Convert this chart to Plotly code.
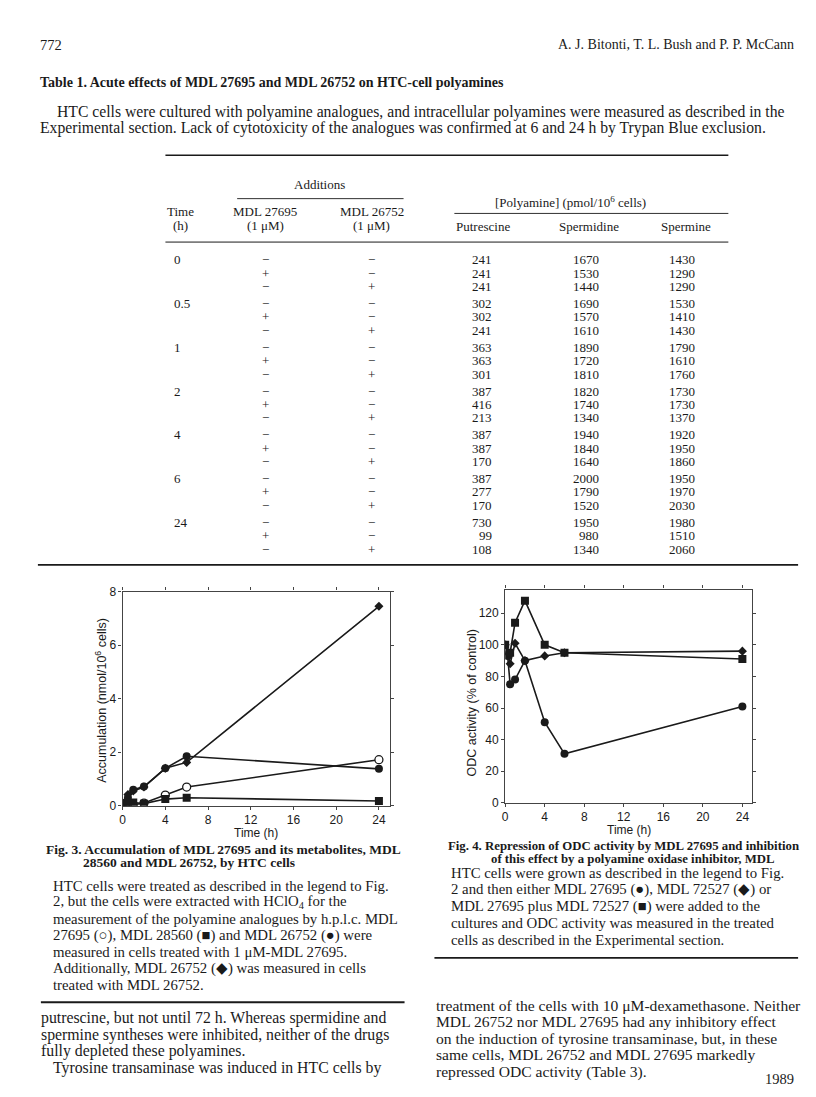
import plotly.graph_objects as go

W, H = 816, 1097

# ---- Table 1 data ----
times = ["0", "0.5", "1", "2", "4", "6", "24"]
add_27695 = ["−", "+", "−"]
add_26752 = ["−", "−", "+"]
putrescine = [241, 241, 241, 302, 302, 241, 363, 363, 301, 387, 416, 213,
              387, 387, 170, 387, 277, 170, 730, 99, 108]
spermidine = [1670, 1530, 1440, 1690, 1570, 1610, 1890, 1720, 1810, 1820, 1740, 1340,
              1940, 1840, 1640, 2000, 1790, 1520, 1950, 980, 1340]
spermine = [1430, 1290, 1290, 1530, 1410, 1430, 1790, 1610, 1760, 1730, 1730, 1370,
            1920, 1950, 1860, 1950, 1970, 2030, 1980, 1510, 2060]

# ---- Fig. 3 data ----
t3 = [0, 0.25, 0.5, 1, 2, 4, 6, 24]
mdl27695_open = [0.05, 0.05, 0.05, 0.03, 0.1, 0.4, 0.7, 1.72]
mdl28560_sq = [0.05, 0.05, 0.1, 0.12, 0.08, 0.25, 0.3, 0.18]
mdl26752_circ = [0.05, 0.1, 0.3, 0.6, 0.72, 1.4, 1.85, 1.38]
mdl26752_dia = [0.05, 0.15, 0.42, 0.55, 0.7, 1.4, 1.62, 7.45]

# ---- Fig. 4 data ----
t4 = [0, 0.25, 0.5, 1, 2, 4, 6, 24]
odc_27695 = [100, 93, 75, 78, 90, 51, 31, 61]
odc_72527 = [100, 95, 88, 101, 90, 93, 95, 96]
t4_sq = [0, 0.5, 1, 2, 4, 6, 24]
odc_both = [100, 95, 114, 128, 100, 95, 91]


def X(px):
    return px / W


def Y(py):
    return 1 - py / H


SERIF = "Liberation Serif"
SANS = "Liberation Sans"
INK = "#1a1a1a"

fig = go.Figure()
annotations = []
shapes = []


def txt(x, y, s, size=13, anchor="left", bold=False, family=SERIF, angle=0):
    if bold:
        s = "<b>" + s + "</b>"
    annotations.append(dict(
        x=X(x), y=Y(y), xref="paper", yref="paper", text=s, showarrow=False,
        xanchor=anchor, yanchor="middle", textangle=angle,
        font=dict(family=family, size=size, color=INK)))


def rule(x0, x1, y, width=1.4):
    shapes.append(dict(type="line", xref="paper", yref="paper",
                       x0=X(x0), x1=X(x1), y0=Y(y), y1=Y(y),
                       line=dict(color=INK, width=width)))


# page header
txt(27, 30, "772", 14.5)
txt(788, 30, "A. J. Bitonti, T. L. Bush and P. P. McCann", 14, anchor="right")
txt(27, 68, "Table 1. Acute effects of MDL 27695 and MDL 26752 on HTC-cell polyamines", 14, bold=True)
txt(44, 98, "HTC cells were cultured with polyamine analogues, and intracellular polyamines were measured as described in the", 15.7)
txt(27, 114, "Experimental section. Lack of cytotoxicity of the analogues was confirmed at 6 and 24 h by Trypan Blue exclusion.", 15.7)

# table
rule(155, 720, 142)
txt(310, 172, "Additions", 13, anchor="center")
rule(227, 394, 186, 0.9)
txt(562, 189, "[Polyamine] (pmol/10<sup>6</sup> cells)", 13, anchor="center")
rule(445, 720, 201, 0.9)
txt(170, 199, "Time", 13, anchor="center")
txt(170, 213, "(h)", 13, anchor="center")
txt(255, 199, "MDL 27695", 13, anchor="center")
txt(255, 213, "(1 μM)", 13, anchor="center")
txt(362, 199, "MDL 26752", 13, anchor="center")
txt(362, 213, "(1 μM)", 13, anchor="center")
txt(474, 214, "Putrescine", 13, anchor="center")
txt(580, 214, "Spermidine", 13, anchor="center")
txt(677, 214, "Spermine", 13, anchor="center")
rule(155, 720, 230, 1.0)

for g, tm in enumerate(times):
    y0 = 248 + g * 44.33
    txt(162, y0, tm, 13)
    for r in range(3):
        yy = y0 + r * 13.5
        i = g * 3 + r
        txt(255, yy, add_27695[r], 13, anchor="center")
        txt(362, yy, add_26752[r], 13, anchor="center")
        txt(485, yy, str(putrescine[i]), 13, anchor="right")
        txt(592, yy, str(spermidine[i]), 13, anchor="right")
        txt(689, yy, str(spermine[i]), 13, anchor="right")
rule(27, 790, 557, 1.6)

# ---- Fig. 3 traces ----
line = dict(color=INK, width=1.6)
fig.add_trace(go.Scatter(x=t3, y=mdl26752_dia, mode="lines+markers", line=line,
                         marker=dict(symbol="diamond", size=7, color=INK), xaxis="x", yaxis="y"))
fig.add_trace(go.Scatter(x=t3, y=mdl26752_circ, mode="lines+markers", line=line,
                         marker=dict(symbol="circle", size=8, color=INK), xaxis="x", yaxis="y"))
fig.add_trace(go.Scatter(x=t3, y=mdl27695_open, mode="lines+markers", line=line,
                         marker=dict(symbol="circle", size=8, color="white", line=dict(color=INK, width=1.3)),
                         xaxis="x", yaxis="y"))
fig.add_trace(go.Scatter(x=t3, y=mdl28560_sq, mode="lines+markers", line=line,
                         marker=dict(symbol="square", size=8, color=INK), xaxis="x", yaxis="y"))

# ---- Fig. 4 traces ----
fig.add_trace(go.Scatter(x=t4, y=odc_27695, mode="lines+markers", line=line,
                         marker=dict(symbol="circle", size=8, color=INK), xaxis="x2", yaxis="y2"))
fig.add_trace(go.Scatter(x=t4, y=odc_72527, mode="lines+markers", line=line,
                         marker=dict(symbol="diamond", size=7, color=INK), xaxis="x2", yaxis="y2"))
fig.add_trace(go.Scatter(x=t4_sq, y=odc_both, mode="lines+markers", line=line,
                         marker=dict(symbol="square", size=8, color=INK), xaxis="x2", yaxis="y2"))

axis_common = dict(showline=True, linecolor="#444", linewidth=1.2, mirror="ticks",
                   ticks="outside", ticklen=3, tickcolor="#444", showgrid=False, zeroline=False,
                   tickfont=dict(family=SANS, size=12, color=INK))

# axis titles
txt(246, 829, "Time (h)", 12, anchor="center", family=SANS)
txt(90, 694, "Accumulation (nmol/10<sup>6</sup> cells)", 12.5, anchor="center", family=SANS, angle=-90)
txt(620, 826, "Time (h)", 12, anchor="center", family=SANS)
txt(463, 697, "ODC activity (% of control)", 12.5, anchor="center", family=SANS, angle=-90)

# Fig. 3 caption & legend
txt(33, 845, "Fig. 3. Accumulation of MDL 27695 and its metabolites, MDL", 13.5, bold=True)
txt(70, 858, "28560 and MDL 26752, by HTC cells", 13.5, bold=True)
leg3 = ["HTC cells were treated as described in the legend to Fig.",
        "2, but the cells were extracted with HClO<sub>4</sub> for the",
        "measurement of the polyamine analogues by h.p.l.c. MDL",
        "27695 (○), MDL 28560 (■) and MDL 26752 (●) were",
        "measured in cells treated with 1 μM-MDL 27695.",
        "Additionally, MDL 26752 (◆) was measured in cells",
        "treated with MDL 26752."]
for k, s in enumerate(leg3):
    txt(40, 882 + k * 16.8, s, 14.8)
rule(30, 395, 1000, 1.8)

body_l = ["putrescine, but not until 72 h. Whereas spermidine and",
          "spermine syntheses were inhibited, neither of the drugs",
          "fully depleted these polyamines.",
          "Tyrosine transaminase was induced in HTC cells by"]
for k, s in enumerate(body_l):
    txt(40 if k == 3 else 28, 1016 + k * 16.9, s, 15.8)

# Fig. 4 caption & legend
txt(437, 842, "Fig. 4. Repression of ODC activity by MDL 27695 and inhibition", 12.8, bold=True)
txt(480, 855, "of this effect by a polyamine oxidase inhibitor, MDL", 12.8, bold=True)
leg4 = ["HTC cells were grown as described in the legend to Fig.",
        "2 and then either MDL 27695 (●), MDL 72527 (◆) or",
        "MDL 27695 plus MDL 72527 (■) were added to the",
        "cultures and ODC activity was measured in the treated",
        "cells as described in the Experimental section."]
for k, s in enumerate(leg4):
    txt(440, 869 + k * 17, s, 14.8)
rule(425, 790, 955, 1.8)

body_r = ["treatment of the cells with 10 μM-dexamethasone. Neither",
          "MDL 26752 nor MDL 27695 had any inhibitory effect",
          "on the induction of tyrosine transaminase, but, in these",
          "same cells, MDL 26752 and MDL 27695 markedly",
          "repressed ODC activity (Table 3)."]
for k, s in enumerate(body_r):
    txt(425, 1003 + k * 16.8, s, 15.6)

txt(788, 1078, "1989", 14.5, anchor="right")

fig.update_layout(
    width=W, height=H,
    margin=dict(l=0, r=0, t=0, b=0),
    paper_bgcolor="white", plot_bgcolor="white",
    showlegend=False,
    xaxis=dict(domain=[X(112), X(380)], range=[0, 25], tickvals=[0, 4, 8, 12, 16, 20, 24],
               anchor="y", **axis_common),
    yaxis=dict(domain=[Y(801), Y(584)], range=[0, 8], tickvals=[0, 2, 4, 6, 8],
               anchor="x", **axis_common),
    xaxis2=dict(domain=[X(496), X(744)], range=[0, 25], tickvals=[0, 4, 8, 12, 16, 20, 24],
                anchor="y2", **axis_common),
    yaxis2=dict(domain=[Y(798), Y(582)], range=[0, 135], tickvals=[0, 20, 40, 60, 80, 100, 120],
                anchor="x2", **axis_common),
    annotations=annotations,
    shapes=shapes,
)

fig.write_html("out.html")
